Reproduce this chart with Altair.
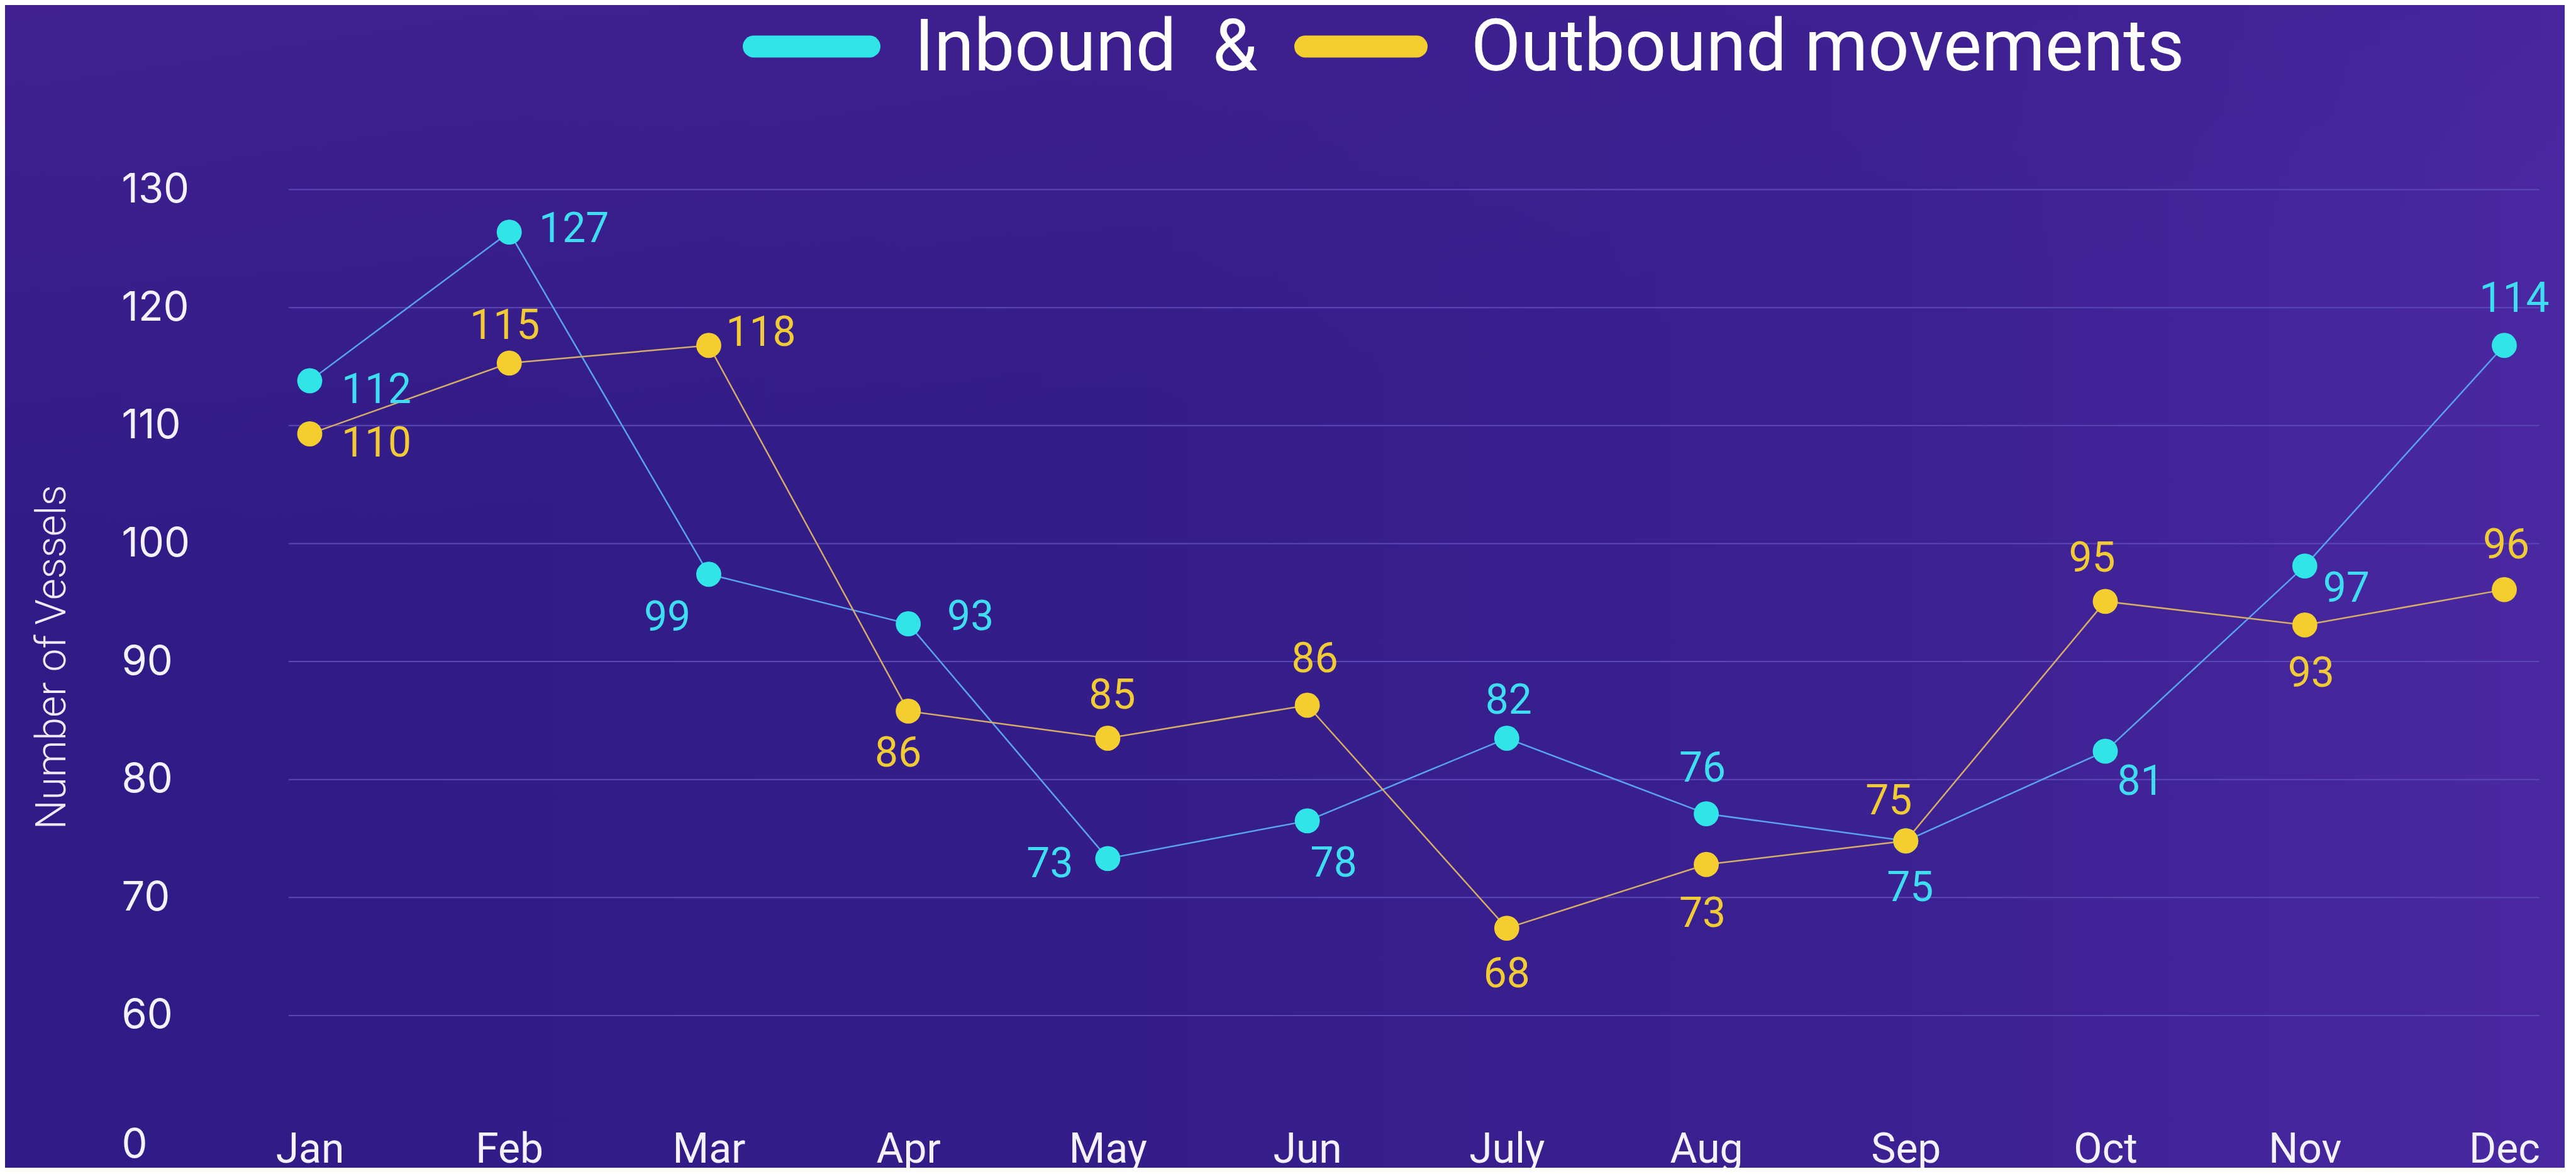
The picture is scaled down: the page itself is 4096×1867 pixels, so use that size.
import altair as alt
import pandas as pd

# ---------------- data ----------------
months = ["Jan", "Feb", "Mar", "Apr", "May", "Jun", "July", "Aug", "Sep", "Oct", "Nov", "Dec"]
series = ["Inbound", "Outbound"]
# plotted positions (as drawn in the picture)
inbound_pos = [113.8, 126.4, 97.4, 93.2, 73.3, 76.5, 83.5, 77.1, 74.8, 82.4, 98.1, 116.8]
outbound_pos = [109.3, 115.3, 116.8, 85.8, 83.5, 86.3, 67.4, 72.8, 74.8, 95.1, 93.1, 96.1]
# printed data labels
inbound_lab = [112, 127, 99, 93, 73, 78, 82, 76, 75, 81, 97, 114]
outbound_lab = [110, 115, 118, 86, 85, 86, 68, 73, 75, 95, 93, 96]
y_grid = [60, 70, 80, 90, 100, 110, 120, 130]
y_bottom_tick = 49.03   # the "0" label at the foot of the broken axis

# label placement (pixel offsets from the point)
inbound_dx = [106, 103, -66, 99, -92, 42, 3, -6, 7, 56, 66, 16]
inbound_dy = [11, -8, 66, -14, 6, 65, -63, -75, 72, 45, 33, -77]
outbound_dx = [106, -7, 83, -16, 7, 12, 0, -6, -27, -21, 10, 3]
outbound_dy = [12, -62, -23, 64, -71, -76, 70, 75, -66, -71, 74, -74]

rows = []
for s, pos, lab, dxs, dys in [
    ("Inbound", inbound_pos, inbound_lab, inbound_dx, inbound_dy),
    ("Outbound", outbound_pos, outbound_lab, outbound_dx, outbound_dy),
]:
    for m, p, l, dx, dy in zip(months, pos, lab, dxs, dys):
        rows.append({"month": m, "series": s, "v": p, "label": str(l), "dx": dx, "dy": dy})
df = pd.DataFrame(rows)
grid_df = pd.DataFrame({"g": y_grid})
one = pd.DataFrame({"k": [0]})

# ---------------- layout ----------------
W, H = 3579, 1521.6
Y_MIN, Y_MAX = 48.9, 130
PAD_L, PAD_T, PAD_R, PAD_B = 451, 293.6, 40, 34
UNITS_PER_PX = (Y_MAX - Y_MIN) / H

line_colors = ["#5AA2F0", "#D6AC6A"]
point_colors = ["#31E4E8", "#F4CE2E"]
text_colors = ["#3FDDF2", "#F1CB36"]

xscale = alt.Scale(type="point", domain=months, range=[33.5, 3523], padding=0)
yscale = alt.Scale(domain=[Y_MIN, Y_MAX], nice=False, zero=False)

xaxis = alt.Axis(
    title=None, domain=False, ticks=False, tickSize=0, grid=False, zindex=5,
    labelFont="Roboto", labelFontSize=66, labelColor="#F4F2FF",
    labelBaseline="middle", labelPadding=5, labelAngle=0,
)
yaxis = alt.Axis(
    title="Number of Vessels", values=[y_bottom_tick] + y_grid,
    labelExpr="datum.value < 55 ? '0' : datum.label",
    domain=False, ticks=False, tickSize=0, grid=False, zindex=5,
    labelFont="Inter", labelFontSize=65, labelColor="#F4F2FF",
    labelAlign="left", labelBaseline="middle", labelPadding=266,
    titleFont="Roboto", titleFontSize=66, titleFontWeight=300, titleColor="#EEEAFB",
    titleAngle=270, titleAlign="center", titleBaseline="middle",
    titleX=-376, titleY=743,
)

X = alt.X("month:N", scale=xscale, axis=xaxis, sort=months)
Y = alt.Y("v:Q", scale=yscale, axis=yaxis)

# background gradient
bg_base = alt.Chart(one).mark_rect(
    fill=alt.Gradient(
        gradient="linear", x1=0, y1=0.5, x2=1, y2=0.5,
        stops=[
            alt.GradientStop(color="#2F1B86", offset=0),
            alt.GradientStop(color="#341D89", offset=0.45),
            alt.GradientStop(color="#3C2192", offset=0.75),
            alt.GradientStop(color="#4A28A2", offset=1),
        ],
    )
).encode(x=alt.value(-PAD_L), x2=alt.value(W + PAD_R), y=alt.value(-PAD_T), y2=alt.value(H + PAD_B))

bg_top = alt.Chart(one).mark_rect(
    fill=alt.Gradient(
        gradient="linear", x1=0, y1=0, x2=0.35, y2=1,
        stops=[
            alt.GradientStop(color="rgba(66,33,145,0.95)", offset=0),
            alt.GradientStop(color="rgba(66,33,145,0)", offset=0.45),
        ],
    )
).encode(x=alt.value(-PAD_L), x2=alt.value(W + PAD_R), y=alt.value(-PAD_T), y2=alt.value(H + PAD_B))

grid = alt.Chart(grid_df).mark_rule(color="#5C47B8", strokeWidth=2).encode(
    y=alt.Y("g:Q", scale=yscale, axis=yaxis)
)

color_line = alt.Color("series:N", scale=alt.Scale(domain=series, range=line_colors), legend=None)
color_point = alt.Color("series:N", scale=alt.Scale(domain=series, range=point_colors), legend=None)
color_text = alt.Color("series:N", scale=alt.Scale(domain=series, range=text_colors), legend=None)

lines = alt.Chart(df).mark_line(strokeWidth=2.5).encode(x=X, y=Y, color=color_line, detail="series:N")
points = alt.Chart(df).mark_point(filled=True, size=1590, opacity=1, strokeWidth=0).encode(
    x=X, y=Y, color=color_point
)
labels = alt.Chart(df).transform_calculate(
    lv=f"datum.v - (datum.dy + 4) * {UNITS_PER_PX}"
).mark_text(
    font="Roboto", fontSize=66, align="center", baseline="middle"
).encode(
    x=X, y=alt.Y("lv:Q", scale=yscale, axis=yaxis), text="label:N", color=color_text,
    xOffset=alt.XOffset("dx:Q", scale=None),
)

# heading with legend swatches
sw_in = alt.Chart(one).mark_rule(color=point_colors[0], strokeWidth=35, strokeCap="round").encode(
    x=alt.value(739.5), x2=alt.value(923.5), y=alt.value(-227.6)
)
sw_out = alt.Chart(one).mark_rule(color=point_colors[1], strokeWidth=35, strokeCap="round").encode(
    x=alt.value(1616.5), x2=alt.value(1793.5), y=alt.value(-227.6)
)
t_in = alt.Chart(one).mark_text(
    text="Inbound\u00a0\u00a0&", font="Roboto", fontSize=115, fontWeight=400, color="#FFFFFF",
    align="left", baseline="alphabetic"
).encode(x=alt.value(995), y=alt.value(-189.3))
t_out = alt.Chart(one).mark_text(
    text="Outbound movements", font="Roboto", fontSize=115, fontWeight=400, color="#FFFFFF",
    align="left", baseline="alphabetic"
).encode(x=alt.value(1880), y=alt.value(-189.3))

chart = alt.layer(
    bg_base, bg_top, grid, lines, points, labels, sw_in, sw_out, t_in, t_out
).resolve_scale(color="independent").properties(
    width=W, height=H,
    autosize=alt.AutoSizeParams(type="none"),
    padding={"left": PAD_L, "top": PAD_T, "right": PAD_R, "bottom": PAD_B},
    background="#341D89",
).configure_view(stroke=None)

chart.save("out.html", embed_options={"renderer": "svg", "actions": False})
